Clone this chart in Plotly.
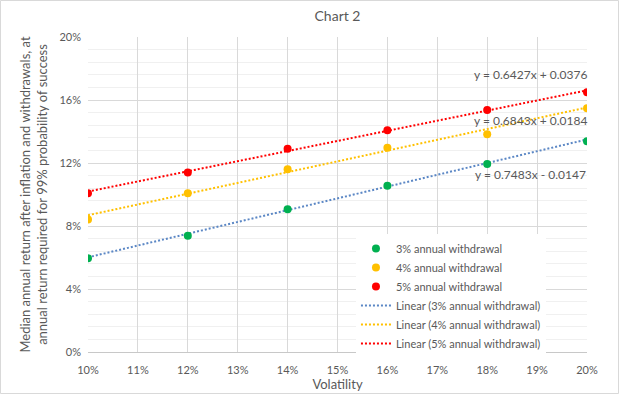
import plotly.graph_objects as go

volatility = [0.10, 0.12, 0.14, 0.16, 0.18, 0.20]
ret_3pct = [0.0595, 0.0738, 0.0906, 0.1056, 0.1194, 0.1338]
ret_4pct = [0.0842, 0.1008, 0.1160, 0.1297, 0.1382, 0.1547]
ret_5pct = [0.1008, 0.1140, 0.1290, 0.1408, 0.1537, 0.1650]

series_names = ["3% annual withdrawal", "4% annual withdrawal", "5% annual withdrawal"]
slopes = [0.7483, 0.6843, 0.6427]
intercepts = [-0.0147, 0.0184, 0.0376]
equations = ["y = 0.7483x - 0.0147", "y = 0.6843x + 0.0184", "y = 0.6427x + 0.0376"]
eq_pos_y = [0.1124, 0.1473, 0.1765]
eq_pos_x = 0.1886

x_ticks = [0.10, 0.11, 0.12, 0.13, 0.14, 0.15, 0.16, 0.17, 0.18, 0.19, 0.20]
y_ticks = [0.0, 0.04, 0.08, 0.12, 0.16, 0.20]

marker_colors = ["#00B050", "#FFC000", "#FF0000"]
trend_colors = ["#5B87C5", "#FFC000", "#FF0000"]
text_color = "#595959"
FONT = "Lato, 'Open Sans', sans-serif"

fig = go.Figure()
xr = [volatility[0], volatility[-1]]
for k, (name, m, b, c) in enumerate(zip(series_names, slopes, intercepts, trend_colors)):
    fig.add_trace(go.Scatter(x=xr, y=[m * x + b for x in xr], mode="lines",
                             name=f"Linear ({name})", legendrank=4 + k,
                             line=dict(color=c, width=2, dash="2px,2px")))
all_series = [ret_3pct, ret_4pct, ret_5pct]
for k, (name, ys, c) in enumerate(zip(series_names, all_series, marker_colors)):
    fig.add_trace(go.Scatter(x=volatility, y=ys, mode="markers", name=name,
                             legendrank=1 + k,
                             marker=dict(color=c, size=8, line=dict(width=0))))

for eq, yy in zip(equations, eq_pos_y):
    fig.add_annotation(x=eq_pos_x, y=yy, text=eq, showarrow=False,
                       font=dict(family=FONT, size=12, color=text_color))

L, R, T, B = 88, 32, 37, 42
W, H = 619, 394
pw, ph = W - L - R, H - T - B
fig.add_shape(type="rect", xref="paper", yref="paper",
              x0=(-L + 0.5) / pw, x1=1 + (R - 0.5) / pw,
              y0=(-B + 0.5) / ph, y1=1 + (T - 0.5) / ph,
              line=dict(color="#d9d9d9", width=1), layer="below")

fig.update_layout(
    width=W, height=H,
    margin=dict(l=L, r=R, t=T, b=B, autoexpand=False),
    paper_bgcolor="white", plot_bgcolor="white",
    font=dict(family=FONT, size=11, color=text_color),
    title=dict(text="Chart 2", x=0.5, xref="paper", y=1 - 16 / H, yanchor="middle",
               font=dict(family=FONT, size=14, color=text_color)),
    legend=dict(x=0.537, y=0.375, xanchor="left", yanchor="top",
                bgcolor="white", font=dict(family=FONT, size=11, color=text_color),
                tracegroupgap=0, traceorder="normal", itemwidth=30),
    showlegend=True,
)

fig.update_xaxes(range=[0.10, 0.20], tickvals=x_ticks, tickformat=".0%",
                 showgrid=True, gridcolor="#d9d9d9", gridwidth=1, automargin=False,
                 zeroline=False, showline=True, linecolor="#c8c8c8", linewidth=1,
                 ticks="", ticklabelstandoff=8,
                 title=dict(text="Volatility", standoff=4,
                            font=dict(family=FONT, size=13, color=text_color)))
fig.update_yaxes(range=[0, 0.20], tickvals=y_ticks, tickformat=".0%", automargin=False,
                 showgrid=True, gridcolor="#d9d9d9", gridwidth=1,
                 minor=dict(dtick=0.008, showgrid=True, gridcolor="#f0f0f0", gridwidth=1),
                 zeroline=False, showline=False, ticks="", ticklabelstandoff=6,
                 title=dict(text="Median annual return after inflation and withdrawals, at<br>annual return required for 99% probability of success",
                            standoff=8, font=dict(family=FONT, size=13, color=text_color)))

fig.write_html("out.html", config={"displayModeBar": False},
               post_script="document.body.style.margin='0';document.body.style.overflow='hidden';")
